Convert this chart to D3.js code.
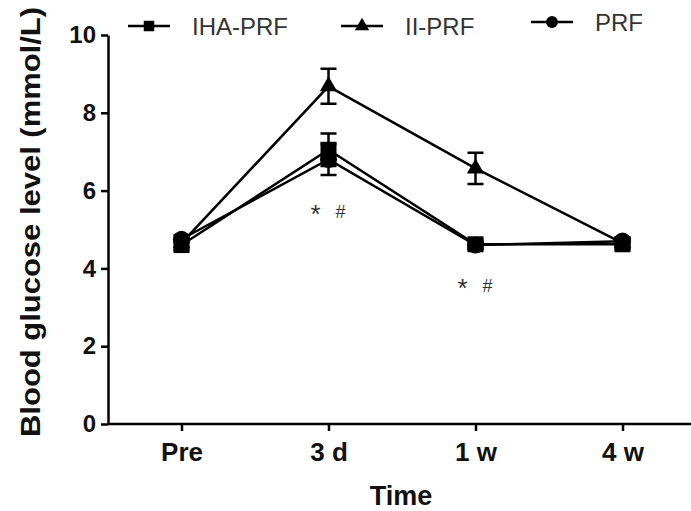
<!DOCTYPE html>
<html>
<head>
<meta charset="utf-8">
<script src="https://cdn.jsdelivr.net/npm/d3@7"></script>
<style>
  body { margin: 0; background: #fff; }
  svg { display: block; font-family: "Liberation Sans", Arial, sans-serif; }
  .axis path, .axis line { stroke: #000; stroke-width: 2.5; }
  .axis text { font-weight: bold; fill: #111; }
</style>
</head>
<body>
<svg id="chart" width="691" height="511"></svg>
<script>
// 時点
var categories = ['Pre', '3 d', '1 w', '4 w'];

// 各群の平均値と誤差
var seriesNames = ['IHA-PRF', 'II-PRF', 'PRF'];
var ihaMean = [4.6, 7.05, 4.62, 4.62];
var ihaErr = [0.12, 0.42, 0.12, 0.12];
var iiMean = [4.65, 8.68, 6.57, 4.65];
var iiErr = [0.1, 0.45, 0.4, 0.1];
var prfMean = [4.75, 6.8, 4.6, 4.7];
var prfErr = [0.1, 0.4, 0.1, 0.1];

// y軸の目盛
var yTicks = [0, 2, 4, 6, 8, 10];

// 有意差マーク
var markCats = ['3 d', '1 w'];
var markLevels = [5.5, 3.6];

var svg = d3.select('#chart');

var x = d3.scalePoint()
  .domain(categories)
  .range([108, 696])
  .padding(0.5);

var y = d3.scaleLinear()
  .domain([0, 10])
  .range([424, 35]);

// マーカー（グラフ用と凡例用）
var symbols = {
  'IHA-PRF': d3.symbol().type(d3.symbolSquare).size(256),
  'II-PRF': d3.symbol().type(d3.symbolTriangle).size(130),
  'PRF': d3.symbol().type(d3.symbolCircle).size(230)
};
var legendSymbols = {
  'IHA-PRF': d3.symbol().type(d3.symbolSquare).size(110),
  'II-PRF': d3.symbol().type(d3.symbolTriangle).size(90),
  'PRF': d3.symbol().type(d3.symbolCircle).size(110)
};

var series = [
  { name: 'PRF', mean: prfMean, err: prfErr },
  { name: 'II-PRF', mean: iiMean, err: iiErr },
  { name: 'IHA-PRF', mean: ihaMean, err: ihaErr }
];

// 軸
svg.append('g')
  .attr('class', 'axis')
  .attr('transform', 'translate(108,0)')
  .call(d3.axisLeft(y).tickValues(yTicks).tickSize(7).tickSizeOuter(0).tickPadding(5))
  .selectAll('text')
  .style('font-size', '24px');

svg.append('g')
  .attr('class', 'axis')
  .attr('transform', 'translate(0,424)')
  .call(d3.axisBottom(x).tickSize(7).tickSizeOuter(0).tickPadding(12))
  .call(function(g) { g.select('.domain').attr('d', 'M108,0H696'); })
  .selectAll('text')
  .style('font-size', '26px');

// 軸タイトル
svg.append('text')
  .attr('transform', 'translate(40,222) rotate(-90)')
  .attr('text-anchor', 'middle')
  .attr('textLength', 430)
  .attr('lengthAdjust', 'spacingAndGlyphs')
  .style('font-size', '28px')
  .style('font-weight', 'bold')
  .style('fill', '#111')
  .text('Blood glucose level (mmol/L)');

svg.append('text')
  .attr('x', 401)
  .attr('y', 505)
  .attr('text-anchor', 'middle')
  .style('font-size', '27px')
  .style('font-weight', 'bold')
  .style('fill', '#111')
  .text('Time');

// 折れ線
var line = d3.line()
  .x(function(d, i) { return x(categories[i]); })
  .y(function(d) { return y(d); });

series.forEach(function(s) {
  svg.append('path')
    .attr('d', line(s.mean))
    .attr('fill', 'none')
    .attr('stroke', '#000')
    .attr('stroke-width', 2.5);
});

// エラーバーとマーカー
series.forEach(function(s) {
  var g = svg.append('g');
  var pts = s.mean.map(function(m, i) { return { cat: categories[i], m: m, e: s.err[i] }; });

  g.selectAll('.err')
    .data(pts)
    .enter()
    .append('path')
    .attr('fill', 'none')
    .attr('stroke', '#000')
    .attr('stroke-width', 2.5)
    .attr('d', function(d) {
      var cx = x(d.cat);
      var y1 = y(d.m + d.e);
      var y2 = y(d.m - d.e);
      return 'M' + (cx - 8) + ',' + y1 + 'H' + (cx + 8) +
        'M' + cx + ',' + y1 + 'V' + y2 +
        'M' + (cx - 8) + ',' + y2 + 'H' + (cx + 8);
    });

  g.selectAll('.pt')
    .data(pts)
    .enter()
    .append('path')
    .attr('transform', function(d) { return 'translate(' + x(d.cat) + ',' + y(d.m) + ')'; })
    .attr('d', symbols[s.name]())
    .attr('fill', '#000');
});

// 有意差マーク
markCats.forEach(function(c, i) {
  svg.append('text')
    .attr('x', x(c) - 13)
    .attr('y', y(markLevels[i]))
    .attr('text-anchor', 'middle')
    .attr('dy', '0.5em')
    .style('font-size', '26px')
    .style('fill', '#333')
    .text('*');
  svg.append('text')
    .attr('x', x(c) + 12)
    .attr('y', y(markLevels[i]))
    .attr('text-anchor', 'middle')
    .attr('dy', '0.42em')
    .style('font-size', '18px')
    .style('fill', '#333')
    .text('#');
});

// 凡例
var legendX = [128, 341, 531];
var legendY = [26, 26, 22];
seriesNames.forEach(function(name, i) {
  var lg = svg.append('g').attr('transform', 'translate(' + legendX[i] + ',' + legendY[i] + ')');
  lg.append('line')
    .attr('x1', 0).attr('x2', 42)
    .attr('stroke', '#000')
    .attr('stroke-width', 2.5);
  lg.append('path')
    .attr('transform', 'translate(21,0)')
    .attr('d', legendSymbols[name]())
    .attr('fill', '#000');
  lg.append('text')
    .attr('x', 64)
    .attr('dy', '0.36em')
    .style('font-size', '24px')
    .style('fill', '#333')
    .text(name);
});
</script>
</body>
</html>
